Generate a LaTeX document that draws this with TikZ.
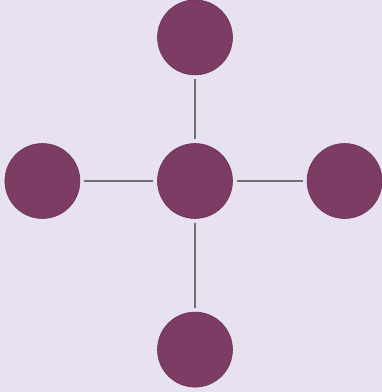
\documentclass[tikz,border=0pt]{standalone}
\usepackage{tikz}
\usetikzlibrary{positioning}
\definecolor{bgLavender}{RGB}{232,226,240}
\definecolor{hubPurple}{RGB}{124,60,100}
\definecolor{linkGrey}{RGB}{112,110,120}
\tikzset{
	hub/.style = {
		circle,
		inner sep=0pt,
		minimum size=75pt,
		fill=hubPurple,
		draw=hubPurple!85!black,
		line width=0.6pt
	},
	link/.style = {
		draw=linkGrey,
		line width=2pt,
		shorten >=4pt,
		shorten <=4pt
	}
}

\begin{document}
\begin{tikzpicture}[x=1pt,y=-1pt]
\fill [bgLavender] (0,0) rectangle (382,392);
\useasboundingbox (0,0) rectangle (382,392);
\node [hub] (c) at (195,181) {};
\node [hub, above=68pt of c] (t) {};
\node [hub, below=93pt of c] (b) {};
\node [hub, left=77pt of c] (l) {};
\node [hub, right=74pt of c] (r) {};
\draw [link] (c) -- (t);
\draw [link] (c) -- (b);
\draw [link] (c) -- (l);
\draw [link] (c) -- (r);
\end{tikzpicture}
\end{document}
